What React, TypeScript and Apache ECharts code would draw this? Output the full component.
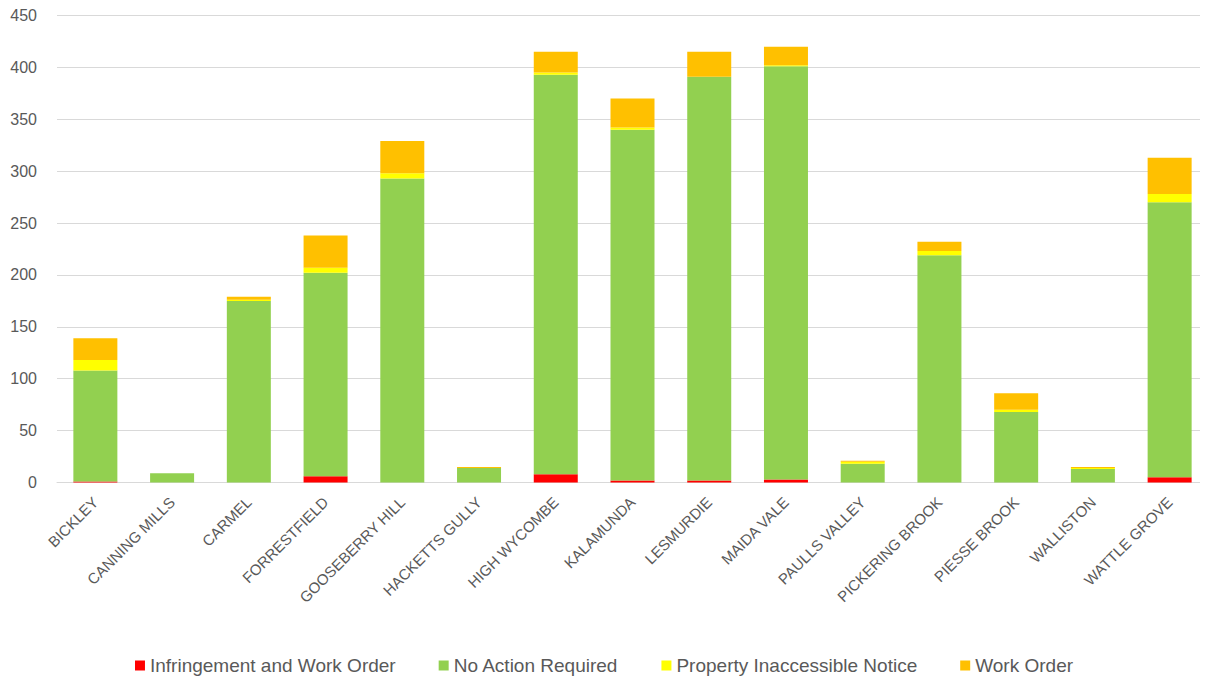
import React, { useEffect, useRef } from "react";
import * as echarts from "echarts";

const categories = [
  "BICKLEY", "CANNING MILLS", "CARMEL", "FORRESTFIELD", "GOOSEBERRY HILL",
  "HACKETTS GULLY", "HIGH WYCOMBE", "KALAMUNDA", "LESMURDIE", "MAIDA VALE",
  "PAULLS VALLEY", "PICKERING BROOK", "PIESSE BROOK", "WALLISTON", "WATTLE GROVE",
];
const infringement = [1, 0, 0, 6, 0, 0, 8, 2, 2, 3, 0, 0, 0, 0, 5];
const noAction = [107, 9, 175, 196, 293, 14, 385, 338, 389, 398, 18, 219, 68, 13, 265];
const inaccessible = [10, 0, 1, 5, 5, 0, 2, 2, 0, 1, 2, 4, 2, 1, 8];
const workOrder = [21, 0, 3, 31, 31, 1, 20, 28, 24, 18, 1, 9, 16, 1, 35];
const seriesNames = [
  "Infringement and Work Order",
  "No Action Required",
  "Property Inaccessible Notice",
  "Work Order",
];
const seriesColors = ["#FF0000", "#92D050", "#FFFF00", "#FFC000"];

export default function App() {
  const ref = useRef<HTMLDivElement>(null);
  useEffect(() => {
    if (!ref.current) return;
    const chart = echarts.init(ref.current, null, { renderer: "svg" });
    const data = [infringement, noAction, inaccessible, workOrder];
    const font = "'Liberation Sans', Arial, sans-serif";
    chart.setOption({
      animation: false,
      textStyle: { fontFamily: font },
      grid: { left: 57, right: 0, top: 15.5, bottom: 203.5, containLabel: false },
      legend: {
        bottom: 6,
        left: "center",
        itemWidth: 10,
        itemHeight: 10,
        itemGap: 43,
        icon: "rect",
        textStyle: { fontSize: 19, color: "#595959", fontFamily: font },
        data: seriesNames,
      },
      xAxis: {
        type: "category",
        data: categories,
        axisLine: { lineStyle: { color: "#D9D9D9" } },
        axisTick: { show: false },
        axisLabel: {
          rotate: 45,
          fontSize: 15,
          color: "#595959",
          margin: 17,
          interval: 0,
        },
      },
      yAxis: {
        type: "value",
        min: 0,
        max: 450,
        interval: 50,
        axisLine: { show: false },
        axisTick: { show: false },
        axisLabel: { fontSize: 16, color: "#595959", margin: 20 },
        splitLine: { lineStyle: { color: "#D9D9D9", width: 1 } },
      },
      series: seriesNames.map((name, i) => ({
        name,
        type: "bar",
        stack: "total",
        barWidth: 44,
        data: data[i],
        itemStyle: { color: seriesColors[i] },
      })),
    });
    return () => chart.dispose();
  }, []);
  return <div ref={ref} style={{ width: 1208, height: 686, margin: -8 }} />;
}
